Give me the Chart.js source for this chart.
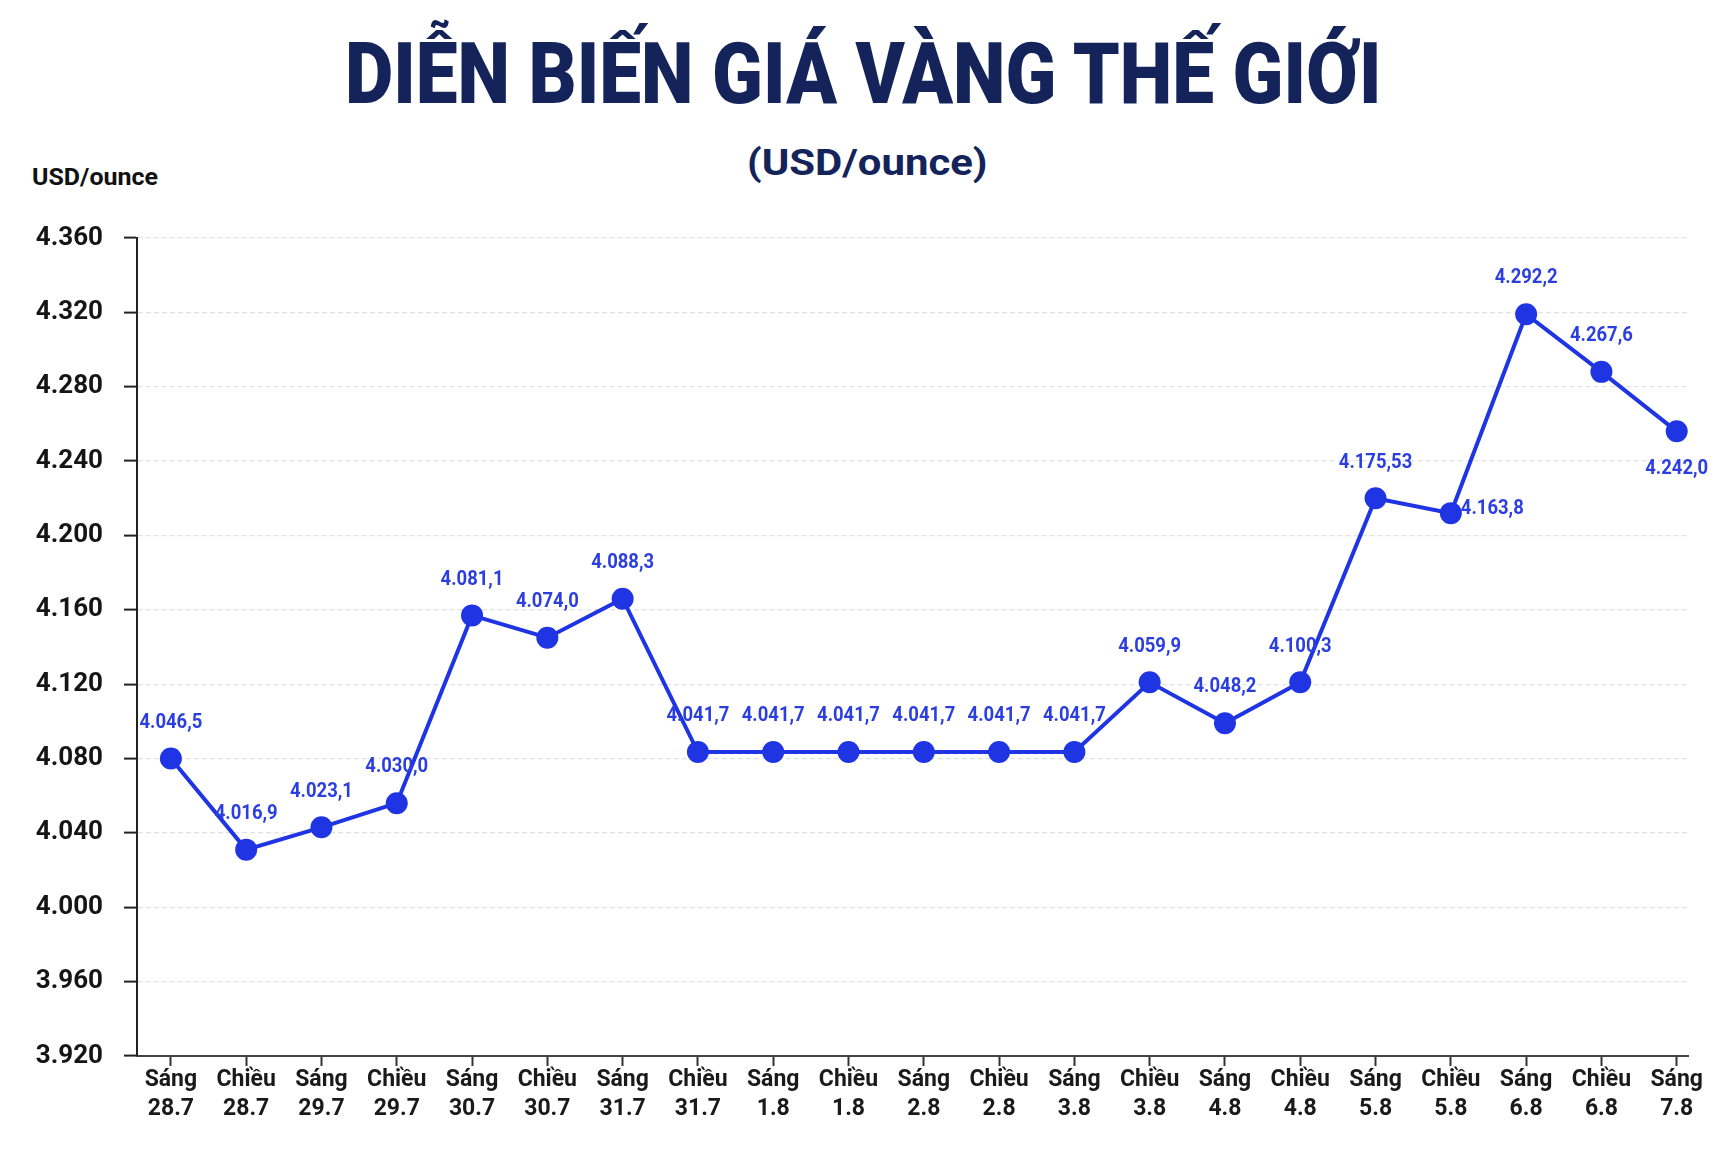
<!DOCTYPE html>
<html lang="vi">
<head>
<meta charset="utf-8">
<title>Diễn biến giá vàng thế giới</title>
<script src="https://cdn.jsdelivr.net/npm/chart.js@4.4.1/dist/chart.umd.min.js"></script>
<style>
    html, body { margin:0; padding:0; background:#fff; }
    #wrap { position:relative; width:1730px; height:1150px; overflow:hidden; background:#fff; }
    #chart { position:absolute; left:0; top:0; }
    .txt { position:absolute; white-space:nowrap; font-family:Roboto, 'Liberation Sans', sans-serif; line-height:1; transform-origin:0 0; }
    #title { top:32px; font-size:85px; font-weight:900; color:#14245a; }
    #subtitle { top:144px; font-size:37px; font-weight:700; color:#14245a; }
    #unit { top:165px; font-size:24px; font-weight:700; color:#111; }
</style>
</head>
<body>
<div id="wrap">
    <div class="txt" id="title">DIỄN BIẾN GIÁ VÀNG THẾ GIỚI</div>
    <div class="txt" id="subtitle">(USD/ounce)</div>
    <div class="txt" id="unit">USD/ounce</div>
    <canvas id="chart" width="1730" height="1150"></canvas>
</div>
<script>
// sessions and dates on the x axis
const sessions = ['Sáng', 'Chiều', 'Sáng', 'Chiều', 'Sáng', 'Chiều', 'Sáng', 'Chiều', 'Sáng', 'Chiều', 'Sáng',
    'Chiều', 'Sáng', 'Chiều', 'Sáng', 'Chiều', 'Sáng', 'Chiều', 'Sáng', 'Chiều', 'Sáng'];
const days = ['28.7', '28.7', '29.7', '29.7', '30.7', '30.7', '31.7', '31.7', '1.8', '1.8', '2.8',
    '2.8', '3.8', '3.8', '4.8', '4.8', '5.8', '5.8', '6.8', '6.8', '7.8'];
// point heights as drawn in the picture
const priceValues = [4080, 4031, 4043, 4056, 4157, 4145, 4166, 4083.5, 4083.5, 4083.5, 4083.5,
    4083.5, 4083.5, 4121, 4099, 4121, 4220, 4212, 4319, 4288, 4256];
// value labels printed next to the points
const priceLabels = ['4.046,5', '4.016,9', '4.023,1', '4.030,0', '4.081,1', '4.074,0', '4.088,3', '4.041,7', '4.041,7', '4.041,7', '4.041,7',
    '4.041,7', '4.041,7', '4.059,9', '4.048,2', '4.100,3', '4.175,53', '4.163,8', '4.292,2', '4.267,6', '4.242,0'];
const labelSide = ['top', 'top', 'top', 'top', 'top', 'top', 'top', 'top', 'top', 'top', 'top',
    'top', 'top', 'top', 'top', 'top', 'top', 'right', 'top', 'top', 'bottom'];
const yMin = 3920;
const yMax = 4360;
const yStep = 40;

const lineColor = '#1f34e3';
const labelColor = '#2b3ee0';

function fitText(id, cx, targetW) {
    const el = document.getElementById(id);
    const s = targetW / el.offsetWidth;
    el.style.transform = `scaleX(${s})`;
    el.style.left = (cx - targetW / 2) + 'px';
}
fitText('title', 863, 1037);
fitText('subtitle', 867, 240);
fitText('unit', 95, 126);

const fmtThousands = (v) => String(v).replace(/\B(?=(\d{3})+(?!\d))/g, '.');

const pointLabels = {
    id: 'pointLabels',
    afterDatasetsDraw(chart) {
        const ctx = chart.ctx;
        const meta = chart.getDatasetMeta(0);
        ctx.save();
        ctx.fillStyle = labelColor;
        ctx.font = 'bold 21px Roboto';
        ctx.textBaseline = 'middle';
        meta.data.forEach((pt, i) => {
            let x = pt.x;
            let y = pt.y;
            const side = labelSide[i];
            if (side === 'right') {
                ctx.textAlign = 'left';
                x += 10;
                y -= 4;
            } else if (side === 'bottom') {
                ctx.textAlign = 'center';
                y += 37;
            } else {
                ctx.textAlign = 'center';
                y -= 36;
            }
            ctx.save();
            ctx.translate(x, y);
            ctx.scale(0.88, 1);
            ctx.fillText(priceLabels[i], 0, 0);
            ctx.restore();
        });
        ctx.restore();
    }
};

new Chart(document.getElementById('chart'), {
    type: 'line',
    data: {
        datasets: [{
            label: 'Giá vàng',
            data: priceValues.map((v, i) => ({ x: i, y: v })),
            borderColor: lineColor,
            backgroundColor: lineColor,
            borderWidth: 4,
            pointRadius: 11,
            pointBorderWidth: 0,
            pointBackgroundColor: lineColor,
            tension: 0,
            fill: false
        }]
    },
    options: {
        responsive: false,
        animation: false,
        layout: { padding: { top: 238, right: 42, left: 0, bottom: 0 } },
        plugins: {
            legend: { display: false },
            title: { display: false },
            tooltip: { enabled: false }
        },
        scales: {
            x: {
                type: 'linear',
                min: -0.45,
                max: 20.15,
                afterBuildTicks: (scale) => { scale.ticks = sessions.map((_, i) => ({ value: i })); },
                afterFit: (scale) => { scale.height = 94; },
                ticks: {
                    autoSkip: false,
                    maxRotation: 0,
                    padding: 0,
                    color: '#1a1a1a',
                    font: { family: 'Roboto', size: 23, weight: 'bold', lineHeight: 1.25 },
                    callback: (v) => [sessions[v], days[v]]
                },
                grid: { drawOnChartArea: false, drawTicks: true, tickLength: 10, tickColor: '#333', tickWidth: 2 },
                border: { color: '#444', width: 2 }
            },
            y: {
                min: yMin,
                max: yMax,
                afterFit: (scale) => { scale.width = 137; },
                ticks: {
                    stepSize: yStep,
                    padding: 21,
                    color: '#151515',
                    font: { family: 'Roboto', size: 26, weight: 'bold' },
                    callback: (v) => fmtThousands(v)
                },
                grid: { color: '#e2e2e2', lineWidth: 1.2, tickLength: 13, tickColor: '#222', tickWidth: 2 },
                border: { color: '#222', width: 2, dash: [5, 3] }
            }
        }
    },
    plugins: [pointLabels]
});
</script>
</body>
</html>
